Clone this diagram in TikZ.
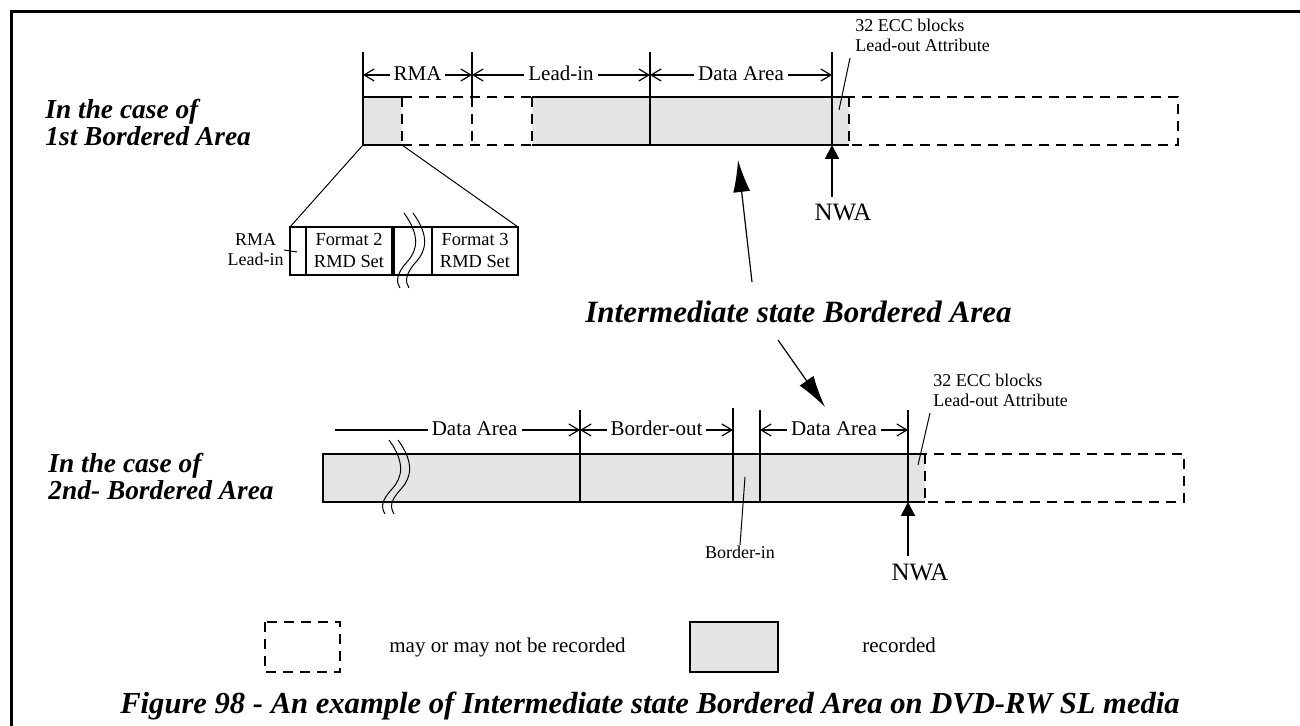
\documentclass[tikz,border=0pt]{standalone}
\usepackage{fontspec}
\setmainfont{Liberation Serif}
\usetikzlibrary{arrows.meta,positioning,calc}
\definecolor{RecGray}{HTML}{E4E4E4}
\tikzset{
  edge/.style={line width=1pt},
  open/.style={line width=1pt, dash pattern=on 5pt off 3.5pt},
  rec/.style={fill=RecGray},
  tick/.style={line width=1pt},
  dim/.style={line width=0.6pt, {Straight Barb[length=5pt,width=6pt]}-{Straight Barb[length=5pt,width=6pt]}},
  dimend/.style={line width=0.6pt, -{Straight Barb[length=5pt,width=6pt]}},
  dimlabel/.style={fill=white, inner sep=2pt, text height=1.5ex, text depth=0.2ex, font=\fontsize{10.5}{12}\selectfont},
  lead/.style={line width=0.5pt},
  note/.style={font=\fontsize{9}{10}\selectfont, align=left, inner sep=0pt},
  side/.style={font=\fontsize{13.7}{13.5}\selectfont\bfseries\itshape, align=left, inner sep=0pt},
  nwa/.style={-{Triangle[length=7pt,width=7pt]}, line width=1pt},
  big/.style={-{Latex[length=16pt,width=8.5pt]}, line width=0.6pt},
  wave/.style={line width=0.5pt},
}
\begin{document}
\begin{tikzpicture}[x=0.5pt,y=-0.5pt]
  \useasboundingbox (0,0) rectangle (1300,726);
  % frame
  \draw[line width=1.5pt] (11.5,726) -- (11.5,11.5) -- (1300,11.5);

  % side labels
  \node[side,anchor=west] (caseA) at (45,123) {In the case of\\1st Bordered Area};
  \node[side,anchor=west] (caseB) at (48,476) {In the case of\\2nd- Bordered Area};

  % 1st bordered area
  \fill[rec] (363,97) rectangle (402,145);
  \fill[rec] (532,97) rectangle (849,145);
  \draw[edge] (402,97) -- (363,97) -- (363,145) -- (402,145);
  \draw[open] (402,97) -- (532,97);
  \draw[open] (402,145) -- (532,145);
  \draw[open] (402,97) -- (402,145);
  \draw[open] (472,97) -- (472,145);
  \draw[open] (532,97) -- (532,145);
  \draw[edge] (532,97) -- (849,97);
  \draw[edge] (532,145) -- (849,145);
  \draw[edge] (650,97) -- (650,145);
  \draw[open] (849,97) rectangle (1178,145);
  \draw[tick] (363,52) -- (363,97);
  \draw[tick] (472,52) -- (472,97);
  \draw[tick] (650,52) -- (650,97);
  \draw[tick] (832,52) -- (832,145);
  \draw[dim] (363,75) -- node[dimlabel] (rma) {RMA} (472,75);
  \draw[dim] (472,75) -- node[dimlabel] (leadin) {Lead-in} (650,75);
  \draw[dim] (650,75) -- node[dimlabel] (dataA) {Data Area} (832,75);

  \node[note,anchor=base west] (eccA) at (855,52) {32 ECC blocks\\Lead-out Attribute};
  \coordinate (eccAend) at (839,110);
  \draw[lead] (850,58) -- (eccAend);

  \node[font=\fontsize{12.5}{14}\selectfont,anchor=base] (nwaA) at (843,221) {NWA};
  \coordinate (nwaAtip) at (832,145);
  \draw[nwa] (nwaA.north -| nwaAtip) -- (nwaAtip);

  % RMA detail
  \draw[lead] (363,145) -- (290,227);
  \draw[lead] (402,145) -- (518,227);
  \draw[edge] (290,227) rectangle (518,275);
  \draw[edge] (306,227) -- (306,275);
  \draw[line width=1.6pt] (393,227) -- (393,275);
  \draw[edge] (432,227) -- (432,275);
  \node[font=\fontsize{9.2}{11}\selectfont,align=center] (fmt2) at (349,251) {Format 2\\RMD Set};
  \node[font=\fontsize{9.2}{11}\selectfont,align=center] (fmt3) at (475,251) {Format 3\\RMD Set};
  \foreach \dx in {0,9}
    \draw[wave] (404+\dx,213) .. controls (420+\dx,235) and (418+\dx,250) .. (407+\dx,262)
                .. controls (396+\dx,274) and (396+\dx,282) .. (400+\dx,288);
  \node[note,align=center,anchor=east] (rmali) at (284,250) {RMA\\Lead-in};
  \coordinate (rmaliend) at (297,252);
  \draw[lead] (rmali.east) -- (rmaliend);

  % intermediate state label and pointers
  \node[font=\fontsize{15.5}{18}\selectfont\bfseries\itshape,anchor=base west,inner sep=0pt] (ibr) at (585,323) {Intermediate state Bordered Area};
  \coordinate (upFoot) at (752,282);
  \coordinate (upTip) at (738,160);
  \coordinate (dnFoot) at (778,340);
  \coordinate (dnTip) at (825,407);
  \draw[big] (upFoot) -- (upTip);
  \draw[big] (dnFoot) -- (dnTip);

  % 2nd bordered area
  \fill[rec] (323,454) rectangle (925,502);
  \draw[edge] (925,454) -- (323,454) -- (323,502) -- (925,502);
  \draw[open] (925,454) rectangle (1184,502);
  \draw[tick] (580,410) -- (580,502);
  \draw[tick] (733,408) -- (733,502);
  \draw[tick] (760,410) -- (760,502);
  \draw[tick] (908,410) -- (908,502);
  \draw[dimend] (335,430) -- node[dimlabel,pos=0.57] (dataB) {Data Area} (580,430);
  \draw[dim] (580,430) -- node[dimlabel] (bout) {Border-out} (733,430);
  \draw[dim] (760,430) -- node[dimlabel] (dataC) {Data Area} (908,430);
  \foreach \dx in {0,9}
    \draw[wave] (389+\dx,440) .. controls (405+\dx,462) and (403+\dx,477) .. (392+\dx,489)
                .. controls (381+\dx,501) and (381+\dx,507) .. (385+\dx,514);

  \node[note,anchor=base] (bin) at (740,558) {Border-in};
  \coordinate (binend) at (745,477);
  \draw[lead] (bin.north) -- (binend);

  \node[note,anchor=base west] (eccB) at (933,407) {32 ECC blocks\\Lead-out Attribute};
  \coordinate (eccBend) at (918,465);
  \draw[lead] (930,413) -- (eccBend);

  \node[font=\fontsize{12.5}{14}\selectfont,anchor=base] (nwaB) at (920,580) {NWA};
  \coordinate (nwaBtip) at (908,502);
  \draw[nwa] (nwaB.north -| nwaBtip) -- (nwaBtip);

  % legend
  \draw[open] (265,622) rectangle (340,672);
  \node[dimlabel,anchor=west] (lgopen) at (385,647) {may or may not be recorded};
  \draw[edge,rec] (690,622) rectangle (778,672);
  \node[dimlabel,anchor=west] (lgrec) at (858,647) {recorded};

  % caption
  \node[font=\fontsize{15.3}{18}\selectfont\bfseries\itshape,anchor=base] (cap) at (650,713)
    {Figure 98 - An example of Intermediate state Bordered Area on DVD-RW SL media};
\end{tikzpicture}
\end{document}
